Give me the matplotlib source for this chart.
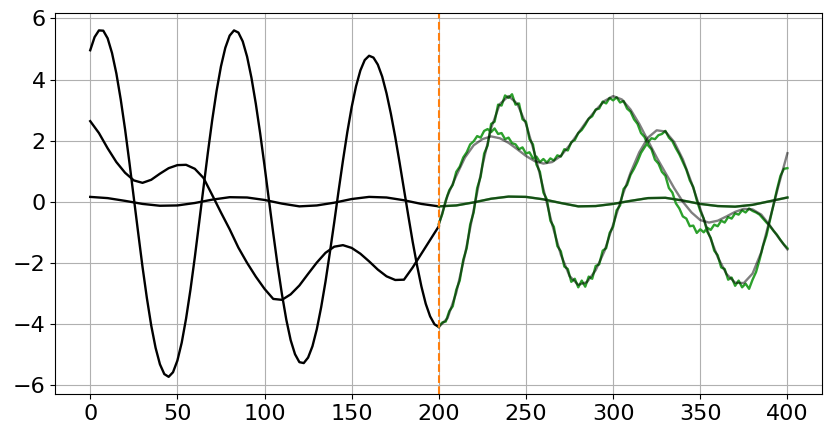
import matplotlib
matplotlib.use('Agg')
import matplotlib.pyplot as plt

# training part: big curve every 2.5, mid curve every 5
t_train_fine = [2.5 * i for i in range(81)]
big_train = [4.96, 5.39, 5.61, 5.60, 5.35, 4.87, 4.20, 3.35, 2.37, 1.28,
             0.13, -1.01, -2.13, -3.15, -4.05, -4.78, -5.32, -5.64, -5.73, -5.58,
             -5.20, -4.61, -3.82, -2.88, -1.82, -0.68, 0.47, 1.61, 2.68, 3.63,
             4.43, 5.04, 5.44, 5.61, 5.54, 5.25, 4.75, 4.06, 3.21, 2.24,
             1.18, 0.07, -1.03, -2.08, -3.03, -3.86, -4.53, -4.99, -5.25, -5.28,
             -5.10, -4.73, -4.17, -3.45, -2.61, -1.66, -0.67, 0.36, 1.35, 2.28,
             3.10, 3.78, 4.30, 4.64, 4.78, 4.72, 4.49, 4.10, 3.55, 2.88,
             2.12, 1.28, 0.41, -0.46, -1.31, -2.08, -2.77, -3.34, -3.75, -4.01, -4.10]
t_train = list(range(0, 201, 5))
mid_train = [2.64, 2.25, 1.75, 1.30, 0.95, 0.70, 0.62, 0.72, 0.92, 1.10,
             1.20, 1.21, 1.08, 0.78, 0.22, -0.35, -0.90, -1.50, -2.00, -2.45,
             -2.85, -3.18, -3.21, -3.03, -2.74, -2.36, -1.99, -1.67, -1.47, -1.42,
             -1.51, -1.70, -1.95, -2.22, -2.44, -2.56, -2.55, -2.15, -1.70, -1.25, -0.80]

# small curve (every 10, whole range)
t_small = list(range(0, 401, 10))
small_true = [0.16, 0.12, 0.03, -0.07, -0.13, -0.12, -0.04, 0.07, 0.15, 0.14,
              0.06, -0.06, -0.15, -0.12, -0.03, 0.09, 0.16, 0.14, 0.05, -0.07,
              -0.15, -0.12, -0.02, 0.10, 0.17, 0.16, 0.08, -0.04, -0.15, -0.14,
              -0.07, 0.03, 0.12, 0.13, 0.04, -0.07, -0.14, -0.16, -0.10, 0.02, 0.14]
t_small_pred = list(range(200, 401, 10))
small_pred = [-0.15, -0.12, -0.02, 0.10, 0.17, 0.16, 0.08, -0.04, -0.15, -0.14,
              -0.07, 0.03, 0.12, 0.13, 0.04, -0.07, -0.14, -0.16, -0.10, 0.02, 0.14]

# test part, true values (200..400, every 5)
t_test = list(range(200, 401, 5))
big_test = [-4.10, -3.81, -2.98, -1.73, -0.27, 1.18, 2.41, 3.20, 3.46, 3.21,
            2.55, 1.58, 0.42, -0.74, -1.73, -2.43, -2.72, -2.63, -2.24, -1.62,
            -0.75, 0.15, 0.95, 1.62, 2.10, 2.34, 2.30, 1.96, 1.39, 0.62,
            -0.23, -1.07, -1.81, -2.36, -2.65, -2.66, -2.35, -1.65, -0.55, 0.55, 1.59]
mid_test = [-0.75, 0.20, 0.85, 1.45, 1.85, 2.05, 2.14, 2.08, 1.93, 1.72,
            1.50, 1.33, 1.25, 1.30, 1.50, 1.85, 2.25, 2.65, 3.00, 3.30,
            3.46, 3.35, 3.02, 2.55, 2.00, 1.45, 0.95, 0.45, 0.00, -0.35,
            -0.60, -0.68, -0.62, -0.48, -0.33, -0.23, -0.25, -0.42, -0.78, -1.18, -1.56]

# noisy predictions (200..400, every 2)
t_pred = list(range(200, 401, 2))
big_pred = [-4.08, -3.95, -3.92, -3.58, -3.42, -2.88, -2.58, -1.90, -1.52, -0.74,
            -0.35, 0.45, 0.82, 1.58, 1.84, 2.55, 2.62, 3.18, 3.15, 3.48,
            3.40, 3.52, 3.18, 3.22, 2.70, 2.62, 2.05, 1.88, 1.22, 0.98,
            0.30, 0.08, -0.62, -0.82, -1.45, -1.62, -2.12, -2.20, -2.62, -2.52,
            -2.80, -2.58, -2.78, -2.45, -2.52, -2.10, -2.05, -1.60, -1.52, -1.02,
            -0.82, -0.28, -0.12, 0.42, 0.55, 0.88, 1.08, 1.32, 1.60, 1.78,
            1.95, 2.08, 2.05, 2.18, 2.22, 2.32, 2.10, 1.98, 1.75, 1.55,
            1.30, 1.05, 0.70, 0.48, 0.05, -0.30, -0.55, -0.98, -1.18, -1.60,
            -1.75, -2.15, -2.20, -2.55, -2.48, -2.75, -2.58, -2.80, -2.68, -2.85,
            -2.55, -2.30, -1.90, -1.45, -1.10, -0.60, -0.10, 0.40, 0.85, 1.08, 1.10]
mid_pred = [-0.72, -0.40, 0.05, 0.38, 0.55, 0.98, 1.15, 1.45, 1.62, 1.88,
            1.98, 2.15, 2.10, 2.32, 2.38, 2.28, 2.40, 2.22, 2.25, 2.05,
            2.10, 1.92, 1.88, 1.72, 1.78, 1.58, 1.62, 1.42, 1.48, 1.30,
            1.40, 1.28, 1.42, 1.35, 1.52, 1.48, 1.72, 1.68, 1.95, 2.02,
            2.25, 2.35, 2.52, 2.72, 2.80, 3.02, 3.05, 3.28, 3.22, 3.40,
            3.32, 3.42, 3.25, 3.30, 3.05, 2.95, 2.70, 2.55, 2.25, 2.12,
            1.85, 1.72, 1.38, 1.25, 0.98, 0.85, 0.45, 0.30, -0.05, -0.22,
            -0.48, -0.55, -0.80, -0.78, -1.02, -0.90, -1.00, -0.85, -0.92, -0.75,
            -0.80, -0.62, -0.68, -0.50, -0.55, -0.38, -0.42, -0.28, -0.35, -0.22,
            -0.30, -0.35, -0.42, -0.55, -0.68, -0.80, -0.95, -1.08, -1.25, -1.40, -1.52]

split = 200

fig = plt.figure(figsize=(8.3, 4.36), dpi=100)
ax = fig.add_axes([0.0667, 0.096, 0.924, 0.874])

# training data
ax.plot(t_train_fine, big_train, c='k', lw=1.7)
ax.plot(t_train, mid_train, c='k', lw=1.7)
ax.plot(t_small[:21], small_true[:21], c='k', lw=1.7)

# predictions
ax.plot(t_pred, big_pred, c='tab:green', lw=1.7)
ax.plot(t_pred, mid_pred, c='tab:green', lw=1.7)
ax.plot(t_small_pred, small_pred, c='tab:green', lw=1.7)

# true test data
ax.plot(t_test, big_test, c='k', lw=1.7, alpha=0.5)
ax.plot(t_test, mid_test, c='k', lw=1.7, alpha=0.5)
ax.plot(t_small[20:], small_true[20:], c='k', lw=1.7, alpha=0.5)

ax.axvline(split, c='tab:orange', ls='--', lw=1.5)

ax.set_xticks(range(0, 401, 50))
ax.set_yticks(range(-6, 7, 2))
ax.tick_params(labelsize=16)
ax.grid(True)

plt.savefig('out.png')
